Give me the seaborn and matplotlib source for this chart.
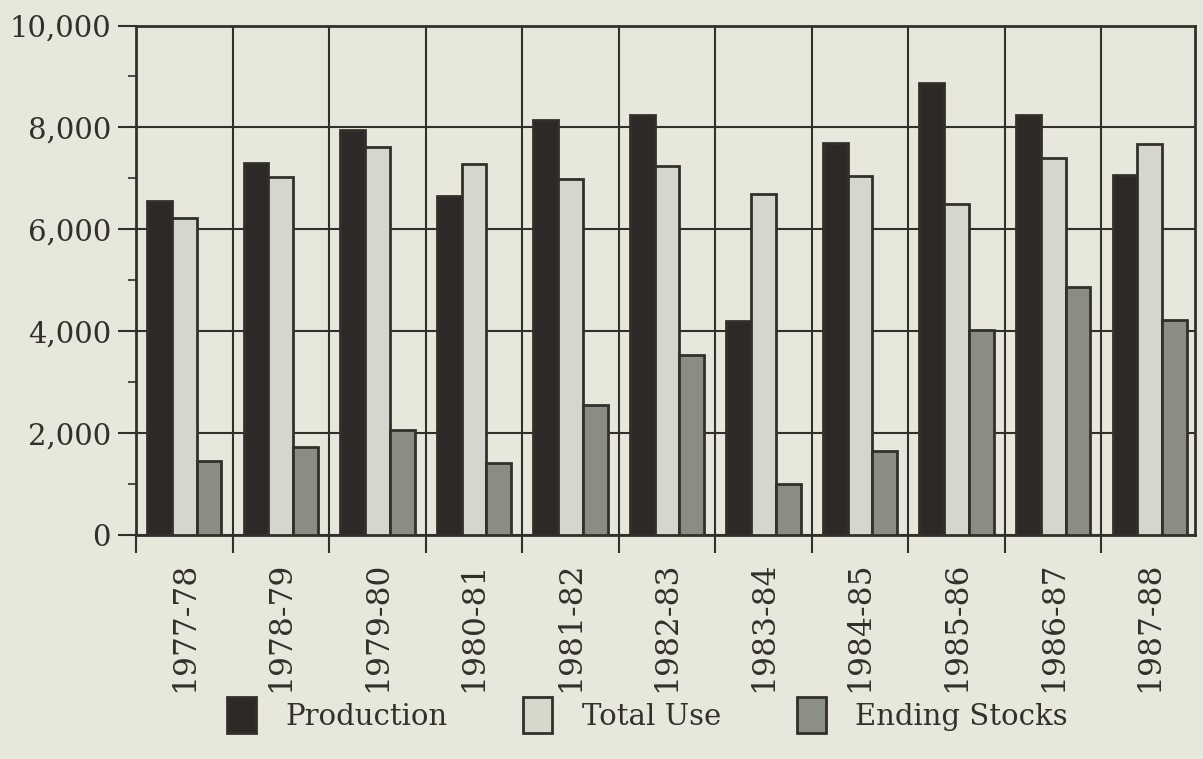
import numpy as np
import pandas as pd
import matplotlib
matplotlib.use("Agg")
import matplotlib.pyplot as plt
from matplotlib.ticker import MultipleLocator, FixedLocator, FuncFormatter
from matplotlib.patches import Patch
import seaborn as sns

# values
years = ["1977-78", "1978-79", "1979-80", "1980-81", "1981-82", "1982-83",
         "1983-84", "1984-85", "1985-86", "1986-87", "1987-88"]
production = [6550, 7300, 7950, 6650, 8150, 8250, 4200, 7700, 8880, 8250, 7070]
total_use = [6230, 7020, 7620, 7290, 6980, 7250, 6700, 7040, 6490, 7400, 7670]
ending_stocks = [1460, 1730, 2060, 1410, 2560, 3540, 1010, 1650, 4030, 4870, 4220]

series = ["Production", "Total Use", "Ending Stocks"]
colors = ["#2d2926", "#d6d8cc", "#8c8f83"]

df = pd.DataFrame({
    "year": years * 3,
    "series": np.repeat(series, len(years)),
    "value": production + total_use + ending_stocks,
})

bg = "#e7e8db"
ink = "#33302c"

sns.set_theme(style="white")
plt.rcParams["font.family"] = ["DejaVu Serif", "DejaVu Sans"]

fig = plt.figure(figsize=(12.03, 7.59), dpi=100, facecolor=bg)
ax = fig.add_axes([0.1131, 0.2951, 0.8803, 0.6713])
ax.set_facecolor(bg)

sns.barplot(data=df, x="year", y="value", hue="series", hue_order=series,
            palette=colors, width=0.77, edgecolor=ink, linewidth=2,
            legend=False, ax=ax, zorder=3)

ax.set_ylim(0, 10000)
ax.set_xlim(-0.5, 10.47)

# horizontal grid on major y ticks, vertical grid on group boundaries
ax.yaxis.set_major_locator(MultipleLocator(2000))
ax.yaxis.set_minor_locator(MultipleLocator(1000))
ax.yaxis.set_major_formatter(FuncFormatter(lambda v, p: "{:,}".format(int(v))))
ax.xaxis.set_minor_locator(FixedLocator(np.arange(-0.5, 10.6, 1.0)))

ax.grid(True, which="major", axis="y", color=ink, linewidth=1.5, zorder=1)
ax.grid(True, which="minor", axis="x", color=ink, linewidth=1.5, zorder=1)
ax.set_axisbelow(True)

ax.tick_params(axis="y", which="major", direction="out", length=13, width=1.5,
               color=ink, labelsize=21, labelcolor=ink, pad=5, left=True)
ax.tick_params(axis="y", which="minor", direction="out", length=6, width=1.2,
               color=ink, left=True)
ax.tick_params(axis="x", which="major", length=0, labelsize=22.5,
               labelcolor=ink, pad=19, labelrotation=90)
ax.tick_params(axis="x", which="minor", direction="out", length=13, width=1.5,
               color=ink, bottom=True)

for s in ax.spines.values():
    s.set_color(ink)
    s.set_linewidth(2)
    s.set_visible(True)

ax.set_xlabel("")
ax.set_ylabel("")

handles = [Patch(facecolor=c, edgecolor=ink, linewidth=2) for c in colors]
fig.legend(handles, series, loc="center", bbox_to_anchor=(0.538, 0.058),
           ncol=3, frameon=False, fontsize=21, handlelength=1.0,
           handleheight=1.55, handletextpad=1.0, columnspacing=2.6,
           labelcolor=ink)

fig.savefig("out.png", dpi=100, facecolor=bg)
